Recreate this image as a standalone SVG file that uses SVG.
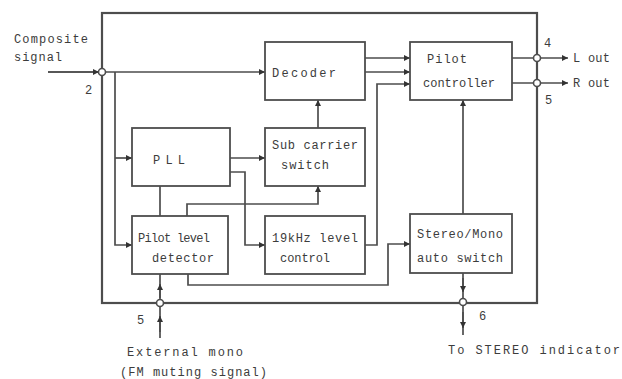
<svg xmlns="http://www.w3.org/2000/svg" width="622" height="379" viewBox="0 0 622 379">
<style>
.b{fill:#fff;stroke:#4d4d4d;stroke-width:1.8}
.o{fill:none;stroke:#4d4d4d;stroke-width:2.2}
.c{fill:none;stroke:#4d4d4d;stroke-width:1.7}
.t{font-family:"Liberation Mono","DejaVu Sans Mono",monospace;font-size:12px;fill:#3c3c3c}
.p{fill:#fff;stroke:#4d4d4d;stroke-width:1.6}
</style>
<defs>
<marker id="a" viewBox="0 0 10 10" refX="10" refY="5" markerWidth="10" markerHeight="6" markerUnits="userSpaceOnUse" orient="auto"><path d="M0,0 L10,5 L0,10 z" fill="#333"/></marker>
</defs>
<rect width="622" height="379" fill="#fff"/>
<rect x="102" y="13" width="435" height="290" class="o"/>
<g id="connectors">
<path class="c" d="M48,72 H265" marker-end="url(#a)"/>
<path class="c" d="M48,72 H99" marker-end="url(#a)"/>
<path class="c" d="M115,72 V245 H132" marker-end="url(#a)"/>
<path class="c" d="M115,158 H132" marker-end="url(#a)"/>
<path class="c" d="M230,158 H265" marker-end="url(#a)"/>
<path class="c" d="M230,172 H245 V245 H265" marker-end="url(#a)"/>
<path class="c" d="M160,186 V216"/>
<path class="c" d="M187,216 V204 H318 V186" marker-end="url(#a)"/>
<path class="c" d="M318,128 V100" marker-end="url(#a)"/>
<path class="c" d="M365,58 H410" marker-end="url(#a)"/>
<path class="c" d="M365,72 H410" marker-end="url(#a)"/>
<path class="c" d="M365,245 H377 V84 H410" marker-end="url(#a)"/>
<path class="c" d="M188,274 V285 H388 V244 H410" marker-end="url(#a)"/>
<path class="c" d="M463,214 V100" marker-end="url(#a)"/>
<path class="c" d="M512,58 H568" marker-end="url(#a)"/>
<path class="c" d="M512,83 H568" marker-end="url(#a)"/>
<path class="c" d="M160,338 V274"/>
<path class="c" d="M160,298 V284" marker-end="url(#a)"/>
<path class="c" d="M160,332 V316" marker-end="url(#a)"/>
<path class="c" d="M463,273 V335"/>
<path class="c" d="M463,278 V292" marker-end="url(#a)"/>
<path class="c" d="M463,312 V328" marker-end="url(#a)"/>
<circle cx="102" cy="72" r="3.5" class="p"/>
<circle cx="537" cy="58" r="3.5" class="p"/>
<circle cx="537" cy="83" r="3.5" class="p"/>
<circle cx="160" cy="303" r="3.5" class="p"/>
<circle cx="463" cy="302" r="3.5" class="p"/>
</g>
<g id="decoder">
<rect x="265" y="42" width="100" height="58" class="b"/>
<text class="t" x="272" y="77" textLength="64" lengthAdjust="spacing">Decoder</text>
</g>
<g id="pilot-controller">
<rect x="410" y="42" width="102" height="58" class="b"/>
<text class="t" x="427" y="63" textLength="40" lengthAdjust="spacing">Pilot</text>
<text class="t" x="423" y="87" textLength="72" lengthAdjust="spacing">controller</text>
</g>
<g id="sub-carrier-switch">
<rect x="265" y="128" width="100" height="58" class="b"/>
<text class="t" x="272" y="149" textLength="86" lengthAdjust="spacing">Sub carrier</text>
<text class="t" x="281" y="169" textLength="48" lengthAdjust="spacing">switch</text>
</g>
<g id="pll">
<rect x="132" y="128" width="98" height="58" class="b"/>
<text class="t" x="153" y="164" textLength="32" lengthAdjust="spacing">PLL</text>
</g>
<g id="pilot-level-detector">
<rect x="132" y="216" width="96" height="58" class="b"/>
<text class="t" x="138" y="242" textLength="72" lengthAdjust="spacing">Pilot level</text>
<text class="t" x="152" y="262" textLength="62" lengthAdjust="spacing">detector</text>
</g>
<g id="level-control">
<rect x="265" y="216" width="100" height="58" class="b"/>
<text class="t" x="272" y="242" textLength="86" lengthAdjust="spacing">19kHz level</text>
<text class="t" x="280" y="262" textLength="50" lengthAdjust="spacing">control</text>
</g>
<g id="stereo-mono-switch">
<rect x="410" y="214" width="102" height="59" class="b"/>
<text class="t" x="417" y="238" textLength="86" lengthAdjust="spacing">Stereo/Mono</text>
<text class="t" x="417" y="262" textLength="86" lengthAdjust="spacing">auto switch</text>
</g>
<g id="labels">
<text class="t" x="14" y="43" textLength="74" lengthAdjust="spacing">Composite</text>
<text class="t" x="14" y="61" textLength="48" lengthAdjust="spacing">signal</text>
<text class="t" x="85" y="94">2</text>
<text class="t" x="544" y="47">4</text>
<text class="t" x="545" y="104">5</text>
<text class="t" x="573" y="62" textLength="37" lengthAdjust="spacing">L out</text>
<text class="t" x="573" y="87" textLength="37" lengthAdjust="spacing">R out</text>
<text class="t" x="137" y="324">5</text>
<text class="t" x="479" y="320">6</text>
<text class="t" x="127" y="356" textLength="116" lengthAdjust="spacing">External mono</text>
<text class="t" x="120" y="376" textLength="147" lengthAdjust="spacing">(FM muting signal)</text>
<text class="t" x="448" y="354" textLength="172" lengthAdjust="spacing">To STEREO indicator</text>
</g>
</svg>
